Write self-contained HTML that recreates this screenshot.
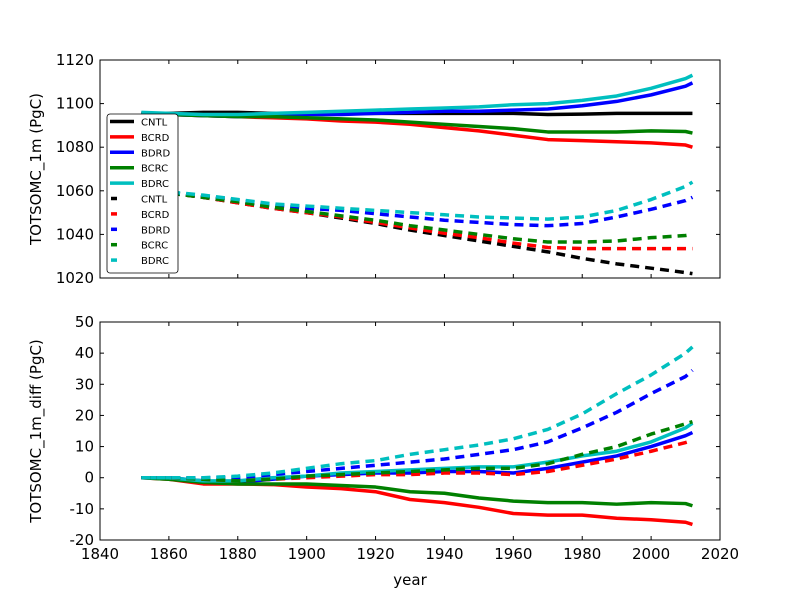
<!DOCTYPE html>
<html><head><meta charset="utf-8"><style>
body{margin:0;background:#fff}
text{font-family:"DejaVu Sans","Liberation Sans",sans-serif}
</style></head><body>
<svg id="fig" width="800" height="600" xmlns="http://www.w3.org/2000/svg"></svg>
<script>
const years=[1852,1860,1870,1880,1890,1900,1910,1920,1930,1940,1950,1960,1970,1980,1990,2000,2010,2012];
const names=["CNTL","BCRD","BDRD","BCRC","BDRC"];
const colors=["#000","#f00","#00f","#008000","#00bfbf"];
const topSolid=[
[1095.5,1095.5,1096,1096,1095.5,1095.5,1095.5,1095.5,1095.5,1095.5,1095.5,1095.5,1095,1095.2,1095.5,1095.5,1095.5,1095.5],
[1095.5,1095,1094.5,1094,1093.5,1093,1092,1091.5,1090.5,1089,1087.5,1085.5,1083.5,1083,1082.5,1082,1081,1080],
[1095.5,1095,1094.5,1094,1094.5,1095,1095,1095.5,1096,1096.5,1096.5,1097,1097.5,1099,1101,1104,1108,1109.5],
[1095.5,1095,1094.5,1094,1094,1093.5,1093,1092.5,1091.5,1090.5,1089.5,1088.5,1087,1087,1087,1087.5,1087.2,1086.5],
[1096,1095.5,1095,1095,1095.5,1096,1096.5,1097,1097.5,1098,1098.5,1099.5,1100,1101.5,1103.5,1107,1111.5,1113]];
const topDashed=[
[1061,1059,1057,1054.5,1052,1050,1047.5,1045,1042,1039.5,1037,1034.5,1032,1029,1026.5,1024.5,1022.5,1022],
[1061,1059,1057,1054.5,1052,1050,1048,1045.5,1043,1040.5,1038.5,1036,1034,1033.5,1033.5,1033.5,1033.5,1033.5],
[1061,1059,1057.5,1055.5,1053.5,1052,1051,1049.5,1048,1046.5,1045.5,1044.5,1044,1045,1048,1051.5,1055.5,1057],
[1061,1059,1057,1055,1052.5,1050.5,1048.5,1046.5,1044,1042,1040,1038,1036.5,1036.5,1037,1038.5,1039.5,1040],
[1061,1059.5,1058,1056,1054,1053,1052,1051,1050,1049,1048,1047.5,1047,1048,1051,1056,1062,1064]];
const botSolid=[
null,
[0,-0.5,-2,-2,-2.2,-3,-3.5,-4.5,-7,-8,-9.5,-11.5,-12,-12,-13,-13.5,-14.3,-15],
[0,0,-1,-1.5,-0.5,0.5,1,1.5,1.5,2,2,1.5,3,5,7,10,13.5,14.5],
[0,-0.5,-1.5,-2,-2,-2,-2.5,-3,-4.5,-5,-6.5,-7.5,-8,-8,-8.5,-8,-8.3,-9],
[0,0,-1,-1,0,0.5,1.5,2,2.5,3,3.5,3.5,5,7,8.5,11.5,16,17.5]];
const botDashed=[
null,
[0,0,-0.5,-1,-0.5,0,0.5,1,1,1.5,1.5,1,2,4,6,8.5,11.3,12],
[0,0,0,0,1,2,3,4,5,6,7.5,9,11.5,16,21,27,32.5,34.5],
[0,0,-0.5,-1,-0.5,0.5,1,1.5,2,2.5,3,3,4.5,7.5,10,14,17.3,18],
[0,0,0,0.5,1.5,3,4.5,5.5,7.5,9,10.5,12.5,15.5,20.5,27,33,40,42]];
const xTicks=[1840,1860,1880,1900,1920,1940,1960,1980,2000,2020];
const topTicks=[1020,1040,1060,1080,1100,1120];
const botTicks=[-20,-10,0,10,20,30,40,50];

const svg=document.getElementById('fig');
const NS="http://www.w3.org/2000/svg";
function mk(tag,attrs,parent){const e=document.createElementNS(NS,tag);for(const k in attrs)e.setAttribute(k,attrs[k]);(parent||svg).appendChild(e);return e;}
const X0=100,X1=720;
const xs=v=>X0+(v-1840)/(2020-1840)*(X1-X0);
function panel(name,top,bot,ymin,ymax,ticks,solid,dashed,ylabel){
  const ys=v=>bot-(v-ymin)/(ymax-ymin)*(bot-top);
  const g=mk('g',{});
  
  
  const clip=mk('clipPath',{id:name+'-clip'},g);mk('rect',{x:X0,y:top,width:X1-X0,height:bot-top},clip);
  const lg=mk('g',{'clip-path':'url(#'+name+'-clip)'},g);
  function line(arr,c,dash,nm){
    const p=mk('polyline',{points:arr.map((v,i)=>xs(years[i])+','+ys(v)).join(' '),fill:'none',stroke:c,'stroke-width':3.5,'stroke-linejoin':'round','stroke-dasharray':dash?'9,6':'none'},lg);
    
    
  }
  for(let i=0;i<5;i++) if(solid[i]) line(solid[i],colors[i],false,names[i].toLowerCase()+'-solid-line');
  for(let i=0;i<5;i++) if(dashed[i]) line(dashed[i],colors[i],true,names[i].toLowerCase()+'-dashed-line');
  mk('rect',{x:X0,y:top,width:X1-X0,height:bot-top,fill:'none',stroke:'#000','stroke-width':1},g);
  xTicks.forEach(t=>{const x=xs(t);mk('line',{x1:x,x2:x,y1:bot,y2:bot-4,stroke:'#000'},g);mk('line',{x1:x,x2:x,y1:top,y2:top+4,stroke:'#000'},g);});
  ticks.forEach(t=>{const y=ys(t);mk('line',{x1:X0,x2:X0+4,y1:y,y2:y,stroke:'#000'},g);mk('line',{x1:X1,x2:X1-4,y1:y,y2:y,stroke:'#000'},g);
    const tx=mk('text',{x:X0-6,y:y+5,'text-anchor':'end','font-size':15},g);tx.textContent=t;});
  const yl=mk('text',{x:0,y:0,transform:'translate(41,'+(top+bot)/2+') rotate(-90)','text-anchor':'middle','font-size':15},g);
  yl.textContent=ylabel;
  
  
  return g;
}
const g1=panel('top-panel',60,278,1020,1120,topTicks,topSolid,topDashed,'TOTSOMC_1m (PgC)');
const g2=panel('bottom-panel',322,540,-20,50,botTicks,botSolid,botDashed,'TOTSOMC_1m_diff (PgC)');
xTicks.forEach(t=>{const tx=mk('text',{x:xs(t),y:559,'text-anchor':'middle','font-size':15},g2);tx.textContent=t;});
const xl=mk('text',{x:410,y:585,'text-anchor':'middle','font-size':15});
xl.textContent='year';


const lg=mk('g',{});


mk('rect',{x:107,y:114,width:71,height:159,rx:3,fill:'#fff',stroke:'#000','stroke-width':0.8},lg);
for(let k=0;k<10;k++){
  const i=k%5,y=121.5+k*15.4;
  const e=mk('g',{},lg);
  
  
  if(k<5) mk('line',{x1:110,x2:134,y1:y,y2:y,stroke:colors[i],'stroke-width':3.5},e);
  else mk('line',{x1:111,x2:117,y1:y,y2:y,stroke:colors[i],'stroke-width':3.5},e);
  const t=mk('text',{x:141,y:y+4,'font-size':10},e);t.textContent=names[i];
}
</script>
</body></html>
